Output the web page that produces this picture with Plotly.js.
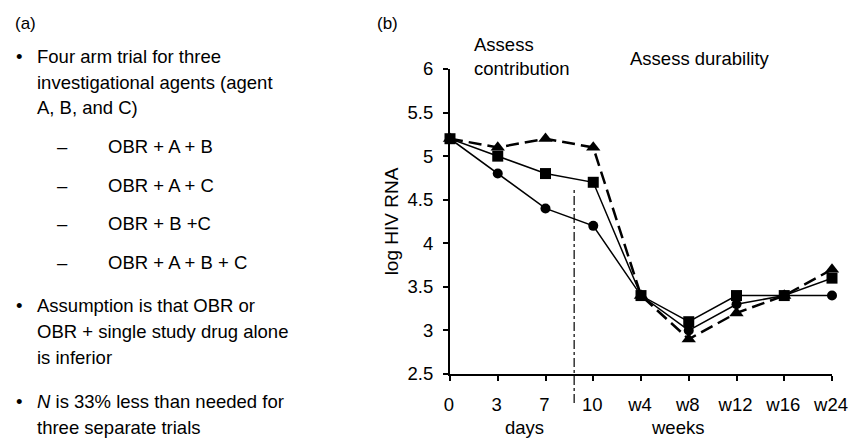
<!DOCTYPE html>
<html>
<head>
<meta charset="utf-8">
<script src="https://cdn.plot.ly/plotly-3.0.1.min.js"></script>
<style>
html, body { margin: 0; padding: 0; background: #fff; }
#chart { width: 849px; height: 439px; }
</style>
</head>
<body>
<div id="chart"></div>
<script>
// ---- data ----
const tickLabels = ["0", "3", "7", "10", "w4", "w8", "w12", "w16", "w24"];
const circleSeries = [5.2, 4.8, 4.4, 4.2, 3.4, 3.0, 3.3, 3.4, 3.4];
const squareSeries = [5.2, 5.0, 4.8, 4.7, 3.4, 3.1, 3.4, 3.4, 3.6];
const triangleSeries = [5.2, 5.1, 5.2, 5.1, 3.4, 2.9, 3.2, 3.4, 3.7];
const dividerPosition = 2.6;
const yTicks = [2.5, 3, 3.5, 4, 4.5, 5, 5.5, 6];
const yTickText = ["2.5", "3", "3.5", "4", "4.5", "5", "5.5", "6"];

const bulletLines = [
  "Four arm trial for three",
  "investigational agents (agent",
  "A, B, and C)"
];
const armLines = ["OBR + A + B", "OBR + A + C", "OBR + B +C", "OBR + A + B + C"];
const assumptionLines = ["Assumption is that OBR or", "OBR + single study drug alone", "is inferior"];
const sizeLines = ["<i>N</i> is 33% less than needed for", "three separate trials"];

// ---- layout helpers ----
const W = 849, H = 439, L = 450, R = 17, T = 69, B = 65;
const px = x => (x - L) / (W - L - R);
const py = y => (H - B - y) / (H - T - B);
const FONT = "Liberation Sans, Arial, Helvetica, sans-serif";
const PF = 18.5; // plot text size
const idx = tickLabels.map((_, i) => i);

function ann(text, x, y, size, xanchor) {
  return {
    text: text, xref: "paper", yref: "paper", x: px(x), y: py(y),
    xanchor: xanchor || "left", yanchor: "middle", align: "left", showarrow: false,
    font: { family: FONT, size: size, color: "#000" }
  };
}

const annotations = [];
const LS = 18.5;
annotations.push(ann("(a)", 13, 23, 17));
annotations.push(ann("•", 14, 56, LS));
const bulletY = [56.5, 82, 107.5];
bulletLines.forEach((t, i) => annotations.push(ann(t, 35, bulletY[i], LS)));
const armY = [146.5, 185, 223.5, 262];
armLines.forEach((t, i) => {
  annotations.push(ann("–", 55, armY[i], LS));
  annotations.push(ann(t, 106, armY[i], LS));
});
annotations.push(ann("•", 14, 305, LS));
const assumY = [305.5, 331.5, 357.5];
assumptionLines.forEach((t, i) => annotations.push(ann(t, 35, assumY[i], LS)));
annotations.push(ann("•", 14, 401, LS));
const sizeY = [401.5, 427.5];
sizeLines.forEach((t, i) => annotations.push(ann(t, 35, sizeY[i], LS)));

annotations.push(ann("(b)", 375, 23, 17));
annotations.push(ann("Assess<br>contribution", 472, 56, PF));
annotations.push(ann("Assess durability", 628, 58, PF));
annotations.push(ann("days", 524, 427, PF, "center"));
annotations.push(ann("weeks", 677, 427, PF, "center"));

const traces = [
  {
    x: idx, y: circleSeries, type: "scatter", mode: "lines+markers", cliponaxis: false,
    line: { color: "#000", width: 1.5 },
    marker: { symbol: "circle", size: 10, color: "#000" }
  },
  {
    x: idx, y: squareSeries, type: "scatter", mode: "lines+markers", cliponaxis: false,
    line: { color: "#000", width: 1.5 },
    marker: { symbol: "square", size: 11, color: "#000" }
  },
  {
    x: idx, y: triangleSeries, type: "scatter", mode: "lines+markers", cliponaxis: false,
    line: { color: "#000", width: 2.5, dash: "13px,6px" },
    marker: { symbol: "triangle-up", size: 12.5, color: "#000" }
  }
];

const layout = {
  width: W, height: H,
  margin: { l: L, r: R, t: T, b: B, pad: 0 },
  paper_bgcolor: "#fff", plot_bgcolor: "#fff",
  showlegend: false,
  font: { family: FONT, size: PF, color: "#000" },
  xaxis: {
    range: [0, 8], tickvals: idx, ticktext: tickLabels,
    showgrid: false, zeroline: false, showline: true, linecolor: "#000", linewidth: 2,
    ticks: "outside", ticklen: 5, tickwidth: 2, tickcolor: "#000",
    ticklabelstandoff: 8, ticklabelshift: -1, ticklabeloverflow: "allow",
    tickfont: { family: FONT, size: PF, color: "#000" }
  },
  yaxis: {
    range: [2.5, 6], tickvals: yTicks, ticktext: yTickText,
    showgrid: false, zeroline: false, showline: true, linecolor: "#000", linewidth: 2,
    ticks: "outside", ticklen: 5, tickwidth: 2, tickcolor: "#000",
    ticklabelstandoff: 6, ticklabeloverflow: "allow",
    tickfont: { family: FONT, size: PF, color: "#000" },
    title: { text: "log HIV RNA", font: { family: FONT, size: 19, color: "#000" }, standoff: 4 }
  },
  shapes: [{
    type: "line", xref: "x", yref: "paper",
    x0: dividerPosition, x1: dividerPosition, y0: py(403), y1: py(190),
    line: { color: "#000", width: 1.2, dash: "dashdot" }
  }],
  annotations: annotations
};

Plotly.newPlot("chart", traces, layout, { displayModeBar: false, staticPlot: true });
</script>
</body>
</html>
